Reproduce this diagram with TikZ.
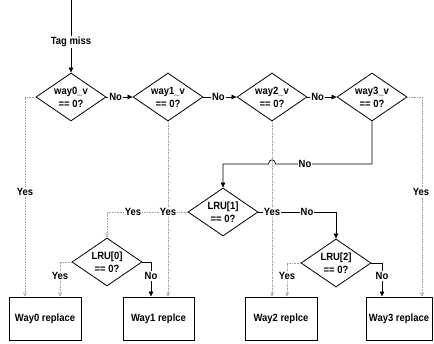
\documentclass[tikz,border=0pt]{standalone}
\usepackage{fontspec}
\setmainfont[FakeStretch=0.9]{Liberation Sans}
\usetikzlibrary{shapes.geometric,arrows.meta}
\begin{document}
\begin{tikzpicture}[x=1pt,y=-1pt,
  font=\fontsize{10.5}{13}\selectfont\bfseries,
  dia/.style={draw, diamond, minimum width=70pt, minimum height=48pt, inner sep=0pt, line width=0.8pt},
  dtext/.style={align=center, inner sep=0pt},
  box/.style={draw, line width=1pt, minimum height=43pt, inner sep=0pt},
  ydot/.style={draw=gray!75, densely dotted, line width=0.6pt, -{Triangle[open,width=4pt,length=4pt]}},
  nsol/.style={draw=black, line width=0.7pt, -{Triangle[width=4.5pt,length=5pt]}},
  nsolplain/.style={draw=black, line width=0.7pt},
  lbl/.style={fill=white, inner sep=1pt}]
\useasboundingbox (0,0) rectangle (434,343);

% decision diamonds
\node[dia] (d0) at (71,97) {};
\node[dia] (d1) at (168,97) {};
\node[dia] (d2) at (272,97) {};
\node[dia] (d3) at (372,97) {};
\node[dtext] (t0) at (d0) {way0\_v\\== 0?};
\node[dtext] (t1) at (d1) {way1\_v\\== 0?};
\node[dtext] (t2) at (d2) {way2\_v\\== 0?};
\node[dtext] (t3) at (d3) {way3\_v\\== 0?};

\node[dia] (l1) at (223,212) {};
\node[dia] (l0) at (107,262) {};
\node[dia] (l2) at (336,263) {};
\node[dtext] (tl1) at (l1) {LRU[1]\\== 0?};
\node[dtext] (tl0) at (l0) {LRU[0]\\== 0?};
\node[dtext] (tl2) at (l2) {LRU[2]\\== 0?};

% boxes
\node[box, minimum width=72pt] (b0) at (45,318.5) {Way0 replace};
\node[box, minimum width=71pt] (b1) at (158.5,318.5) {Way1 replce};
\node[box, minimum width=72pt] (b2) at (281,318.5) {Way2 replce};
\node[box, minimum width=66pt] (b3) at (399,318.5) {Way3 replace};

% entry
\coordinate (start) at (71,0);
\draw[nsol] (start) -- (d0.north);
\node[lbl] (tag) at (71,42) {Tag miss};

% No chain
\draw[nsol] (d0.east) -- (d1.west) node[lbl, pos=0.35] (n01) {No};
\draw[nsol] (d1.east) -- (d2.west) node[lbl, pos=0.45] (n12) {No};
\draw[nsol] (d2.east) -- (d3.west) node[lbl, pos=0.35] (n23) {No};

% way3 No -> LRU[1]
\coordinate (c3a) at (372,164);
\draw[nsol] (d3.south) -- (c3a) -- (275.5,164) .. controls (275.5,158.5) and (268.5,158.5) .. (268.5,164) -- (223,164) -- (l1.north);
\node[lbl] (n3) at (305,164) {No};

% LRU[1] branches
\draw[ydot] (l1.west) -| (l0.north);
\node[lbl] (y1l) at (133,212) {Yes};
\draw[nsol] (l1.east) -| (l2.north);
\node[lbl] (n1r) at (307,212) {No};

% way Yes lines
\draw[ydot] (d0.west) -| (25,0 |- b0.north);
\node[lbl] (y0) at (25,192) {Yes};
\draw[ydot] (d1.south) -- (d1.south |- b1.north);
\node[lbl] (y1) at (168,212) {Yes};
\draw[ydot] (d2.south) -- (d2.south |- b2.north);
\node[lbl] (y2) at (272,212) {Yes};
\draw[ydot] (d3.east) -| (422,0 |- b3.north);
\node[lbl] (y3) at (421,192) {Yes};

% LRU[0] branches
\draw[ydot] (l0.west) -| (60,0 |- b0.north);
\node[lbl] (y0l) at (60,276) {Yes};
\draw[nsol] (l0.east) -| (151,0 |- b1.north);
\node[lbl] (n0r) at (151,276) {No};

% LRU[2] branches
\draw[ydot] (l2.west) -| (287,0 |- b2.north);
\node[lbl] (y2l) at (287,276) {Yes};
\draw[nsol] (l2.east) -| (382,0 |- b3.north);
\node[lbl] (n2r) at (382,276) {No};
\end{tikzpicture}
\end{document}
